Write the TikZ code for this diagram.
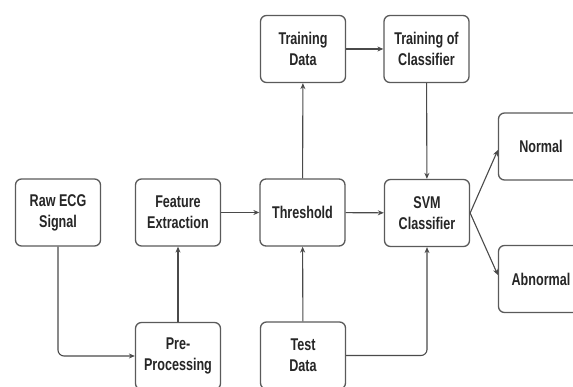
\documentclass[tikz,border=0pt]{standalone}
\usepackage{fontspec}
\setmainfont[FakeStretch=0.74]{Liberation Sans}
\usetikzlibrary{arrows.meta}
\definecolor{boxline}{HTML}{5A5A5A}
\definecolor{arrline}{HTML}{4A4A4A}
\tikzset{
  blk/.style={draw=boxline, line width=1.3pt, rounded corners=6pt, minimum width=85pt, minimum height=67pt,
    align=center, inner sep=0pt, font=\bfseries\fontsize{17}{21}\selectfont, text=black!85},
  arr/.style={draw=arrline, line width=1.1pt, -{Stealth[length=6pt,width=5pt]}}
}
\begin{document}
\begin{tikzpicture}[x=1pt,y=-1pt]
\useasboundingbox (0,0) rectangle (573,387);
\clip (0,0) rectangle (573,387);
\fill[white] (0,0) rectangle (573,387);
\node[blk] (raw) at (58,212.5) {Raw ECG\\Signal};
\node[blk] (feat) at (178,212.5) {Feature\\Extraction};
\node[blk] (pre) at (178,356) {Pre-\\Processing};
\node[blk] (thr) at (302.5,212.5) {Threshold};
\node[blk] (td) at (303,49) {Training\\Data};
\node[blk] (toc) at (426.5,49) {Training of\\Classifier};
\node[blk] (svm) at (427,213) {SVM\\Classifier};
\node[blk] (normal) at (541,146.5) {Normal};
\node[blk] (abn) at (541,279) {Abnormal};
\node[blk] (test) at (303,355.5) {Test\\Data};
\draw[arr, rounded corners=6pt] (raw.south) |- (pre.west);
\draw[arr] (pre) -- (feat);
\draw[arr] (feat) -- (thr);
\draw[arr] (thr) -- (svm);
\draw[arr] (thr) -- (td);
\draw[arr] (td) -- (toc);
\draw[arr] (toc) -- (svm);
\draw[arr] (test) -- (thr);
\draw[arr, rounded corners=6pt] (test.east) -| (svm.south);
\draw[arr] (svm.east) -- ([yshift=-3.5pt]normal.west);
\draw[arr] (svm.east) -- ([yshift=4pt]abn.west);
\end{tikzpicture}
\end{document}
